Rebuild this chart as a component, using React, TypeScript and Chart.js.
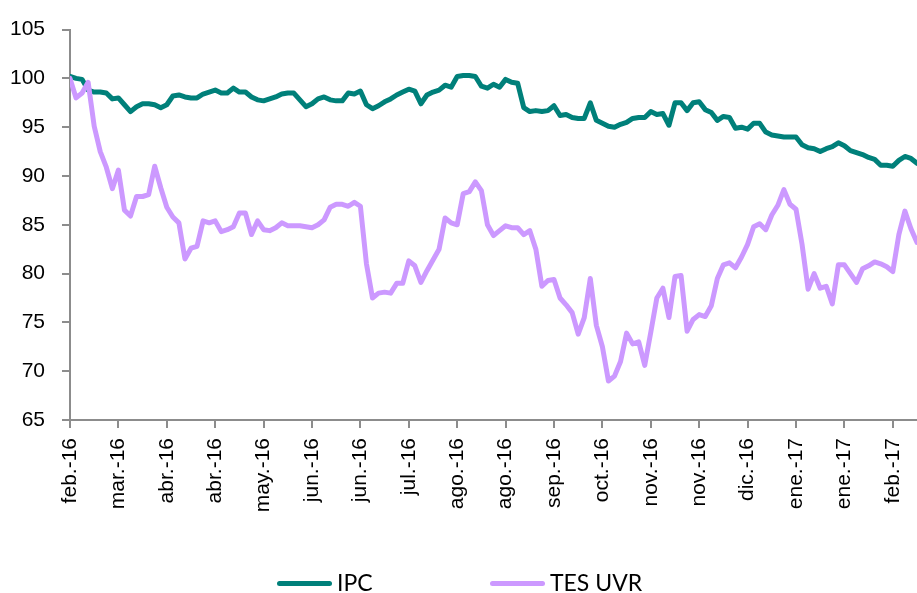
import React, { useEffect, useRef } from "react";
import { Chart, registerables } from "chart.js";

Chart.register(...registerables);

// Tick labels, one every 8 observations
const tickLabels: string[] = [
  "feb.-16", "mar.-16", "abr.-16", "abr.-16", "may.-16", "jun.-16",
  "jun.-16", "jul.-16", "ago.-16", "ago.-16", "sep.-16", "oct.-16",
  "nov.-16", "nov.-16", "dic.-16", "ene.-17", "ene.-17", "feb.-17",
];
const tickEvery = 8;

const seriesNames: string[] = ["IPC", "TES UVR"];

const ipc: number[] = [
  100.2, 100.0, 99.9, 98.8, 98.6, 98.6, 98.5, 97.9, 98.0, 97.3,
  96.6, 97.1, 97.4, 97.4, 97.3, 97.0, 97.3, 98.2, 98.3, 98.1,
  98.0, 98.0, 98.4, 98.6, 98.8, 98.5, 98.5, 99.0, 98.6, 98.6,
  98.1, 97.8, 97.7, 97.9, 98.1, 98.4, 98.5, 98.5, 97.8, 97.1,
  97.4, 97.9, 98.1, 97.8, 97.7, 97.7, 98.5, 98.4, 98.7, 97.3,
  96.9, 97.2, 97.6, 97.9, 98.3, 98.6, 98.9, 98.7, 97.4, 98.3,
  98.6, 98.8, 99.3, 99.1, 100.2, 100.3, 100.3, 100.2, 99.2, 99.0,
  99.4, 99.1, 99.9, 99.6, 99.5, 97.0, 96.6, 96.7, 96.6, 96.7,
  97.2, 96.2, 96.3, 96.0, 95.9, 95.9, 97.5, 95.7, 95.4, 95.1,
  95.0, 95.3, 95.5, 95.9, 96.0, 96.0, 96.6, 96.3, 96.4, 95.2,
  97.5, 97.5, 96.7, 97.5, 97.6, 96.8, 96.5, 95.7, 96.1, 96.0,
  94.9, 95.0, 94.8, 95.4, 95.4, 94.5, 94.2, 94.1, 94.0, 94.0,
  94.0, 93.2, 92.9, 92.8, 92.5, 92.8, 93.0, 93.4, 93.1, 92.6,
  92.4, 92.2, 91.9, 91.7, 91.1, 91.1, 91.0, 91.6, 92.0, 91.8,
  91.3,
];

const tesUvr: number[] = [
  100.0, 98.0, 98.5, 99.6, 95.1, 92.5, 90.9, 88.7, 90.6, 86.5,
  85.9, 87.9, 87.9, 88.1, 91.0, 88.8, 86.8, 85.8, 85.2, 81.5,
  82.6, 82.8, 85.4, 85.2, 85.4, 84.3, 84.5, 84.8, 86.2, 86.2,
  84.0, 85.4, 84.5, 84.4, 84.7, 85.2, 84.9, 84.9, 84.9, 84.8,
  84.7, 85.0, 85.5, 86.8, 87.1, 87.1, 86.9, 87.3, 86.9, 81.0,
  77.5, 78.0, 78.1, 78.0, 79.0, 79.0, 81.3, 80.8, 79.1, 80.3,
  81.4, 82.5, 85.7, 85.2, 85.0, 88.2, 88.4, 89.4, 88.5, 85.0,
  83.9, 84.4, 84.9, 84.7, 84.7, 84.0, 84.4, 82.5, 78.7, 79.3,
  79.4, 77.5, 76.8, 76.0, 73.8, 75.5, 79.5, 74.7, 72.5, 69.0,
  69.5, 71.0, 73.9, 72.8, 73.0, 70.6, 74.0, 77.5, 78.5, 75.5,
  79.7, 79.8, 74.1, 75.3, 75.8, 75.6, 76.7, 79.5, 80.9, 81.1,
  80.6, 81.7, 83.0, 84.8, 85.1, 84.5, 86.0, 87.0, 88.6, 87.1,
  86.6, 83.0, 78.4, 80.0, 78.5, 78.7, 76.9, 80.9, 80.9, 80.0,
  79.1, 80.5, 80.8, 81.2, 81.0, 80.7, 80.2, 84.0, 86.4, 84.6,
  83.2,
];

const IPC_COLOR = "#00807a";
const TES_COLOR = "#cc99ff";
const AXIS_COLOR = "#8c8c8c";
const TICK_FONT = '"Liberation Sans", Arial, sans-serif';

export default function App() {
  const canvasRef = useRef<HTMLCanvasElement>(null);

  useEffect(() => {
    document.body.style.margin = "0";
    const canvas = canvasRef.current;
    if (!canvas) return;
    const toPoints = (arr: number[]) => arr.map((v, i) => ({ x: i, y: v }));
    const chart = new Chart(canvas, {
      type: "line",
      data: {
        datasets: [
          {
            label: seriesNames[1],
            data: toPoints(tesUvr),
            borderColor: TES_COLOR,
            backgroundColor: TES_COLOR,
            borderWidth: 5,
            pointRadius: 0,
            tension: 0,
            borderJoinStyle: "round",
            borderCapStyle: "round",
          },
          {
            label: seriesNames[0],
            data: toPoints(ipc),
            borderColor: IPC_COLOR,
            backgroundColor: IPC_COLOR,
            borderWidth: 5,
            pointRadius: 0,
            tension: 0,
            borderJoinStyle: "round",
            borderCapStyle: "round",
          },
        ],
      },
      options: {
        responsive: false,
        animation: false,
        devicePixelRatio: 1,
        layout: { padding: { top: 24, right: 0, left: 0, bottom: 0 } },
        plugins: {
          legend: { display: false },
          tooltip: { enabled: false },
        },
        scales: {
          x: {
            type: "linear",
            min: 0,
            max: ipc.length - 1,
            afterFit: (scale: any) => {
              scale.height = 173;
              scale.paddingLeft = 0;
              scale.paddingRight = 0;
            },
            grid: {
              drawOnChartArea: false,
              drawTicks: true,
              tickLength: 8,
              color: AXIS_COLOR,
              lineWidth: 2,
            },
            border: { color: AXIS_COLOR, width: 2 },
            ticks: {
              stepSize: tickEvery,
              includeBounds: false,
              autoSkip: false,
              minRotation: 90,
              maxRotation: 90,
              padding: 10,
              color: "#000",
              font: { family: TICK_FONT, size: 21 },
              callback: (v: any) => {
                const idx = Math.round(Number(v) / tickEvery);
                return tickLabels[idx] ?? "";
              },
            },
          },
          y: {
            min: 65,
            max: 105,
            afterFit: (scale: any) => {
              scale.width = 70;
            },
            grid: {
              drawOnChartArea: false,
              drawTicks: true,
              tickLength: 8,
              color: AXIS_COLOR,
              lineWidth: 2,
            },
            border: { color: AXIS_COLOR, width: 2 },
            ticks: {
              stepSize: 5,
              padding: 17,
              color: "#000",
              font: { family: TICK_FONT, size: 21 },
            },
          },
        },
      },
    });
    return () => chart.destroy();
  }, []);

  const legendText: React.CSSProperties = {
    position: "absolute",
    top: 570,
    fontFamily: "Lato, 'Noto Sans', sans-serif",
    fontSize: 23,
    lineHeight: "24px",
    color: "#000",
    whiteSpace: "nowrap",
  };
  const legendLine = (color: string, left: number): React.CSSProperties => ({
    position: "absolute",
    left,
    top: 581,
    width: 55,
    height: 5,
    borderRadius: 3,
    background: color,
  });

  return (
    <div style={{ position: "relative", width: 917, height: 593, background: "#fff", overflow: "hidden" }}>
      <canvas ref={canvasRef} width={917} height={593} style={{ position: "absolute", left: 0, top: 0 }} />
      <div style={legendLine(IPC_COLOR, 277)} />
      <span style={{ ...legendText, left: 337 }}>{seriesNames[0]}</span>
      <div style={legendLine(TES_COLOR, 490)} />
      <span style={{ ...legendText, left: 550 }}>{seriesNames[1]}</span>
    </div>
  );
}
